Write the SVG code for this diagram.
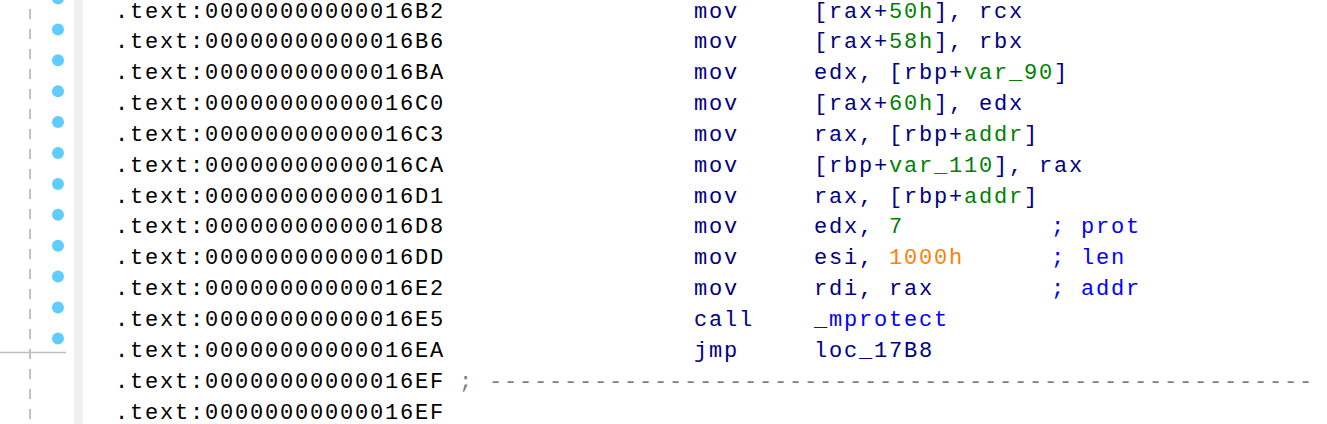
<svg xmlns="http://www.w3.org/2000/svg" width="1327" height="424" viewBox="0 0 1327 424">
<style>
text{font-family:"Liberation Mono","DejaVu Sans Mono",monospace;font-size:22px;letter-spacing:1.8px;white-space:pre}
.a{fill:#000}
.n{fill:#000080}
.g{fill:#008000}
.o{fill:#ff8000}
.b{fill:#0000ff}
.s{fill:#808080}
.dot{fill:#5fcdff}
</style>
<rect width="1327" height="424" fill="#fff"/>
<g id="margin">
<rect x="74" y="0" width="9" height="424" fill="#f0f0f0"/>
<line x1="30" y1="0" x2="30" y2="424" stroke="#c0c0c0" stroke-width="2" stroke-dasharray="10 10" stroke-dashoffset="11"/>
<line x1="0" y1="352.5" x2="66" y2="352.5" stroke="#c0c0c0" stroke-width="1.5"/>
<circle class="dot" cx="58" cy="-1.5" r="6"/>
<circle class="dot" cx="58" cy="29.4" r="6"/>
<circle class="dot" cx="58" cy="60.3" r="6"/>
<circle class="dot" cx="58" cy="91.2" r="6"/>
<circle class="dot" cx="58" cy="122.1" r="6"/>
<circle class="dot" cx="58" cy="153" r="6"/>
<circle class="dot" cx="58" cy="183.9" r="6"/>
<circle class="dot" cx="58" cy="214.8" r="6"/>
<circle class="dot" cx="58" cy="245.7" r="6"/>
<circle class="dot" cx="58" cy="276.6" r="6"/>
<circle class="dot" cx="58" cy="307.5" r="6"/>
<circle class="dot" cx="58" cy="338.4" r="6"/>
</g>
<g id="addresses" class="a">
<text x="115" y="17.5">.text:00000000000016B2</text>
<text x="115" y="48.35">.text:00000000000016B6</text>
<text x="115" y="79.2">.text:00000000000016BA</text>
<text x="115" y="110.05">.text:00000000000016C0</text>
<text x="115" y="140.9">.text:00000000000016C3</text>
<text x="115" y="171.75">.text:00000000000016CA</text>
<text x="115" y="202.6">.text:00000000000016D1</text>
<text x="115" y="233.45">.text:00000000000016D8</text>
<text x="115" y="264.3">.text:00000000000016DD</text>
<text x="115" y="295.15">.text:00000000000016E2</text>
<text x="115" y="326">.text:00000000000016E5</text>
<text x="115" y="356.85">.text:00000000000016EA</text>
<text x="115" y="387.7">.text:00000000000016EF</text>
<text x="115" y="418.55">.text:00000000000016EF</text>
</g>
<g id="mnemonics" class="n">
<text x="694" y="17.5">mov</text>
<text x="694" y="48.35">mov</text>
<text x="694" y="79.2">mov</text>
<text x="694" y="110.05">mov</text>
<text x="694" y="140.9">mov</text>
<text x="694" y="171.75">mov</text>
<text x="694" y="202.6">mov</text>
<text x="694" y="233.45">mov</text>
<text x="694" y="264.3">mov</text>
<text x="694" y="295.15">mov</text>
<text x="694" y="326">call</text>
<text x="694" y="356.85">jmp</text>
</g>
<g id="operands" class="n">
<text x="814" y="17.5">[rax+<tspan class="g">50h</tspan>], rcx</text>
<text x="814" y="48.35">[rax+<tspan class="g">58h</tspan>], rbx</text>
<text x="814" y="79.2">edx, [rbp+<tspan class="g">var_90</tspan>]</text>
<text x="814" y="110.05">[rax+<tspan class="g">60h</tspan>], edx</text>
<text x="814" y="140.9">rax, [rbp+<tspan class="g">addr</tspan>]</text>
<text x="814" y="171.75">[rbp+<tspan class="g">var_110</tspan>], rax</text>
<text x="814" y="202.6">rax, [rbp+<tspan class="g">addr</tspan>]</text>
<text x="814" y="233.45">edx, <tspan class="g">7</tspan></text>
<text x="814" y="264.3">esi, <tspan class="o">1000h</tspan></text>
<text x="814" y="295.15">rdi, rax</text>
<text x="814" y="326" class="b">_mprotect</text>
<text x="814" y="356.85">loc_17B8</text>
</g>
<g id="comments" class="b">
<text x="1051" y="233.45">; prot</text>
<text x="1051" y="264.3">; len</text>
<text x="1051" y="295.15">; addr</text>
</g>
<g id="separator" class="s">
<text x="459" y="387.7">; -------------------------------------------------------</text>
</g>
</svg>
